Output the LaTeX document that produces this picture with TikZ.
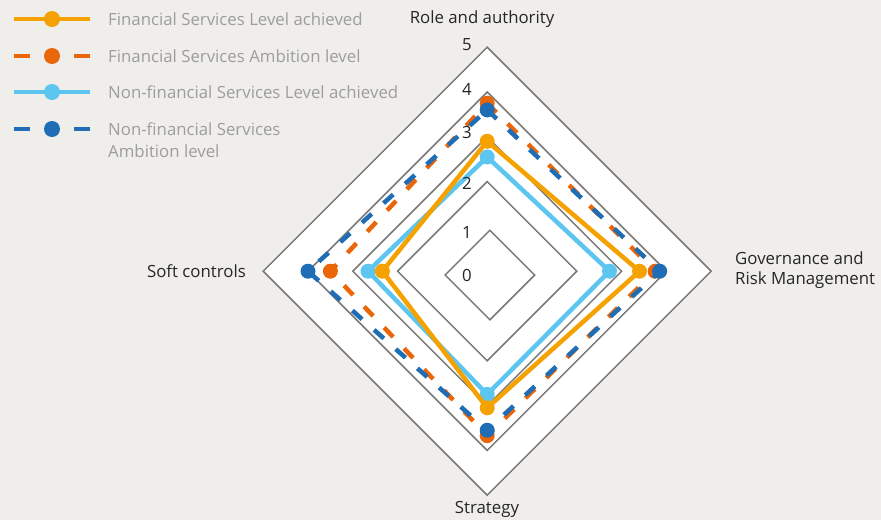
\documentclass[tikz,border=0pt]{standalone}
\usepackage{fontspec}
\setmainfont{Open Sans}
\usetikzlibrary{positioning}
\definecolor{fsach}{HTML}{F5A200}
\definecolor{fsamb}{HTML}{EB6608}
\definecolor{nfsach}{HTML}{5CC5F0}
\definecolor{nfsamb}{HTML}{1F6DB4}
\definecolor{paper}{HTML}{EFEEEB}
\definecolor{ringgray}{HTML}{7A7876}
\definecolor{legendgray}{HTML}{9D9D9D}
\tikzset{
    ringline/.style={draw=ringgray, line width=1.5pt},
    series/.style={line width=4.5pt, line join=miter},
    dashseries/.style={series, dash pattern=on 13pt off 16pt},
    dot/.style={circle, inner sep=0pt, minimum size=15pt},
    axislabel/.style={font=\fontsize{16.8}{19.5}\selectfont, text=black!85, inner sep=0pt},
    ticklabel/.style={font=\fontsize{16.8}{19}\selectfont, text=black!85, inner sep=0pt},
    legendtext/.style={font=\fontsize{16.8}{22}\selectfont, text=legendgray, anchor=west, align=left, inner sep=0pt}
}
\begin{document}
\begin{tikzpicture}[x=1pt, y=-1pt]
    \fill[paper] (0,0) rectangle (881,520);
    \useasboundingbox (0,0) rectangle (881,520);

    % radar grid and data
    \begin{scope}[shift={(487.2,271.2)}, x=44.8pt, y=44.8pt]
        \draw[ringline, fill=white] (0,5) -- (5,0) -- (0,-5) -- (-5,0) -- cycle;
        \foreach \k in {2,...,4}
            \draw[ringline] (0,\k) -- (\k,0) -- (0,-\k) -- (-\k,0) -- cycle;
        \draw[ringline, shift={(0.06,-0.085)}] (0,1) -- (1,0) -- (0,-1) -- (-1,0) -- cycle;

        \foreach \s/\st/\t/\r/\b/\l in {nfsach/series/2.55/2.73/2.75/2.66,
                                        fsach/series/2.9/3.4/3.05/2.34,
                                        fsamb/dashseries/3.75/3.75/3.67/3.5,
                                        nfsamb/dashseries/3.6/3.85/3.55/4.0} {
            \coordinate (\s-top) at (0,\t);
            \coordinate (\s-right) at (\r,0);
            \coordinate (\s-bottom) at (0,-\b);
            \coordinate (\s-left) at (-\l,0);
            \draw[\st, draw=\s] (\s-top) -- (\s-right) -- (\s-bottom) -- (\s-left) -- cycle;
            \foreach \p in {top,right,bottom,left}
                \node[dot, fill=\s] (\s-\p-dot) at (\s-\p) {};
        }
    \end{scope}

    % scale values
    \foreach \k/\yy in {0/275,1/232,2/183,3/132,4/89,5/45}
        \node[ticklabel] (tick\k) at (467,\yy) {\k};

    % axis labels
    \node[axislabel] (role) at (482,19) {Role and authority};
    \node[axislabel, anchor=west, align=left] (gov) at (735,270) {Governance and\\Risk Management};
    \node[axislabel, anchor=east] (soft) at (246,271) {Soft controls};
    \node[axislabel] (strategy) at (487,509) {Strategy};

    % legend
    \draw[series, line width=4pt, draw=fsach] (14,19) -- (90,19);
    \node[dot, minimum size=16pt, fill=fsach] (leg1dot) at (52,19) {};
    \node[legendtext] (leg1) at (108,19) {Financial Services Level achieved};

    \draw[series, line width=4pt, draw=fsamb, dash pattern=on 16pt off 44pt] (14,56) -- (90,56);
    \node[dot, minimum size=16pt, fill=fsamb] (leg2dot) at (52,56) {};
    \node[legendtext] (leg2) at (108,56) {Financial Services Ambition level};

    \draw[series, line width=4pt, draw=nfsach] (14,92) -- (90,92);
    \node[dot, minimum size=16pt, fill=nfsach] (leg3dot) at (52,92) {};
    \node[legendtext] (leg3) at (108,92) {Non-financial Services Level achieved};

    \draw[series, line width=4pt, draw=nfsamb, dash pattern=on 16pt off 44pt] (14,129) -- (90,129);
    \node[dot, minimum size=16pt, fill=nfsamb] (leg4dot) at (52,129) {};
    \node[legendtext, anchor=north west] (leg4) at (108,122) {Non-financial Services\\Ambition level};
\end{tikzpicture}
\end{document}
